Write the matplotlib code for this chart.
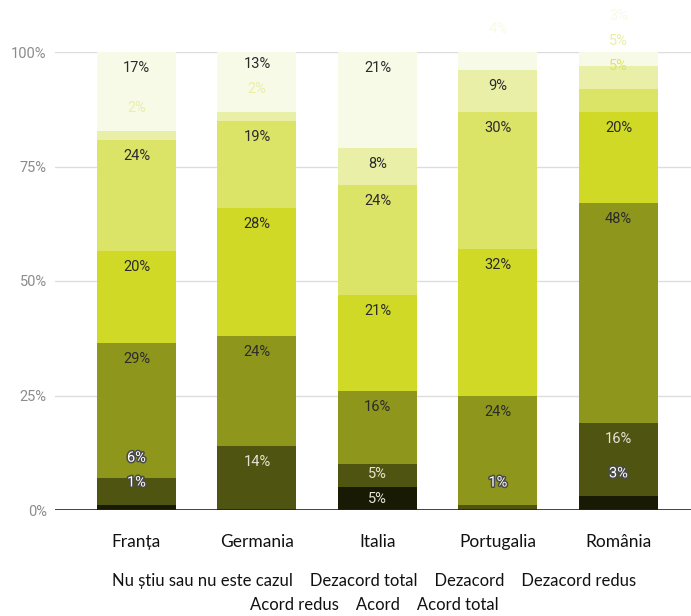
import matplotlib
matplotlib.use("Agg")
import matplotlib.pyplot as plt
import matplotlib.patheffects as pe
import numpy as np

# countries and answer categories (bottom of the stack first)
countries = ["Franța", "Germania", "Italia", "Portugalia", "România"]
categories = ["Nu știu sau nu este cazul", "Dezacord total", "Dezacord",
              "Dezacord redus", "Acord redus", "Acord", "Acord total"]

# percentages per category, one value per country
nu_stiu        = [1, 0, 5, 0, 3]
dezacord_total = [6, 14, 5, 1, 16]
dezacord       = [29, 24, 16, 24, 48]
dezacord_redus = [20, 28, 21, 32, 20]
acord_redus    = [24, 19, 24, 30, 5]
acord          = [2, 2, 8, 9, 5]
acord_total    = [17, 13, 21, 4, 3]

series = [nu_stiu, dezacord_total, dezacord, dezacord_redus,
          acord_redus, acord, acord_total]
colors = ["#181a04", "#4f5511", "#8e971c", "#d0da26",
          "#dce467", "#e9efa7", "#f8fae8"]

fig = plt.figure(figsize=(6.91, 6.16), dpi=100)
ax = fig.add_axes([55 / 691, 106 / 616, 636 / 691, 458 / 616])

data = np.array(series, dtype=float)
totals = data.sum(axis=0)
norm = data / totals * 100
x = np.arange(len(countries))
width = 0.656

# gridlines behind the bars
for g in [25, 50, 75, 100]:
    ax.axhline(g, color="#dddddd", lw=1, zorder=0)

bottoms = np.zeros(len(countries))
for i, vals in enumerate(norm):
    ax.bar(x, vals, width, bottom=bottoms, color=colors[i], zorder=2)
    bottoms += vals

# value labels: near the top of a segment, or just above it when the
# segment is too small; pushed up so they never overlap
for j in range(len(countries)):
    prev = -99
    base = 0
    for i in range(len(categories)):
        h = norm[i, j]
        raw = data[i, j]
        bot, top = base, base + h
        base = top
        if raw == 0:
            continue
        small = h < (6 if i >= 4 else 4)
        want = top + 5 if small else max(top - 3.5, (bot + top) / 2)
        y = max(want, prev + 5.4)
        prev = y
        inside = bot + 1 <= y <= top - 1
        kw = dict(ha="center", va="center", fontsize=10.5, family="Roboto",
                  zorder=4, clip_on=False)
        if i <= 1:
            if inside:
                ax.text(x[j], y, f"{raw:.0f}%", color="#e4e4d6", **kw)
            else:
                ax.text(x[j], y, f"{raw:.0f}%", color="white",
                        path_effects=[pe.withStroke(linewidth=2.2, foreground="#4a4a4a")],
                        **kw)
        else:
            c = "#2b2b2b" if inside else colors[i]
            ax.text(x[j], y, f"{raw:.0f}%", color=c, **kw)

ax.axhline(0, color="#222222", lw=1.2, zorder=3)

ax.set_xlim(-0.676, 4.602)
ax.set_ylim(0, 100)
ax.set_yticks([0, 25, 50, 75, 100])
ax.set_yticklabels(["0%", "25%", "50%", "75%", "100%"],
                   family="Roboto", fontsize=10.5, color="#8c8c8c")
ax.set_xticks(x)
ax.set_xticklabels(countries, family="Lato", fontsize=12.5, color="#111111")
ax.tick_params(axis="y", length=0, pad=6)
ax.tick_params(axis="x", length=0, pad=17)
for s in ax.spines.values():
    s.set_visible(False)

# legend as plain text rows
fig.text(0.542, 35 / 616, "    ".join(categories[:4]), ha="center", va="center",
         family="Lato", fontsize=12, color="#111111")
fig.text(0.542, 11 / 616, "    ".join(categories[4:]), ha="center", va="center",
         family="Lato", fontsize=12, color="#111111")

fig.savefig("out.png", dpi=100)
